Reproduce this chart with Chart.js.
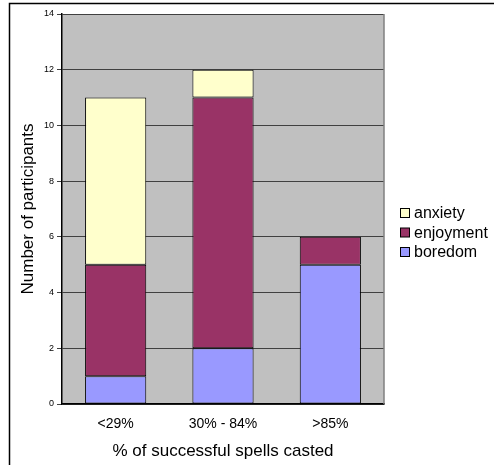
<!DOCTYPE html>
<html>
<head>
<meta charset="utf-8">
<script src="https://cdn.jsdelivr.net/npm/chart.js@4"></script>
<style>
  html, body { margin: 0; padding: 0; background: #fff; }
  #wrap { width: 494px; height: 465px; }
</style>
</head>
<body>
<div id="wrap"><canvas id="spellsChart" width="494" height="465"></canvas></div>
<script>
// data
const categories = ['<29%', '30% - 84%', '>85%'];
const boredom = [1, 2, 5];
const enjoyment = [4, 9, 1];
const anxiety = [6, 1, 0];
const yTicks = [0, 2, 4, 6, 8, 10, 12, 14];

const FONT = '"Liberation Sans", Arial, sans-serif';

// grey plot area + outer frame + right border of plot
const frame = {
    id: 'frame',
    beforeDraw(chart) {
        const c = chart.ctx, a = chart.chartArea;
        c.save();
        c.fillStyle = '#fff';
        c.fillRect(0, 0, chart.width, chart.height);
        c.strokeStyle = '#000';
        c.lineWidth = 1.5;
        c.beginPath();
        c.moveTo(9.5, chart.height + 2);
        c.lineTo(9.5, 3.5);
        c.lineTo(chart.width + 2, 3.5);
        c.stroke();
        c.fillStyle = '#c0c0c0';
        c.fillRect(a.left, a.top, a.right - a.left, a.bottom - a.top);
        c.restore();
    },
    afterDraw(chart) {
        const c = chart.ctx, a = chart.chartArea;
        c.save();
        c.strokeStyle = '#808080';
        c.lineWidth = 1.5;
        c.beginPath();
        c.moveTo(a.right, a.top);
        c.lineTo(a.right, a.bottom);
        c.stroke();

        // legend, top series first like the original
        const items = chart.data.datasets.slice().reverse();
        let y = 213;
        c.font = '16px ' + FONT;
        c.textBaseline = 'middle';
        items.forEach(ds => {
            c.fillStyle = ds.backgroundColor;
            c.fillRect(400.5, y - 4.5, 9, 9);
            c.strokeStyle = '#000';
            c.lineWidth = 1;
            c.strokeRect(400.5, y - 4.5, 9, 9);
            c.fillStyle = '#000';
            c.fillText(ds.label, 414, y + 1);
            y += 19.5;
        });
        c.restore();
    }
};

new Chart(document.getElementById('spellsChart'), {
    type: 'bar',
    data: {
        labels: categories,
        datasets: [
            { label: 'boredom', data: boredom, backgroundColor: '#9999ff' },
            { label: 'enjoyment', data: enjoyment, backgroundColor: '#993366' },
            { label: 'anxiety', data: anxiety, backgroundColor: '#ffffcc' }
        ].map(d => Object.assign(d, {
            borderColor: '#000', borderWidth: 1, borderSkipped: false,
            barPercentage: 0.57, categoryPercentage: 1
        }))
    },
    options: {
        responsive: false,
        devicePixelRatio: 1,
        animation: false,
        layout: { padding: { left: 10, top: 14, right: 110, bottom: 0 } },
        plugins: { legend: { display: false }, tooltip: { enabled: false } },
        scales: {
            x: {
                stacked: true,
                grid: { display: false, drawTicks: false },
                border: { display: true, color: '#000', width: 1.5 },
                ticks: { color: '#000', font: { family: FONT, size: 14 }, padding: 12 },
                title: { display: true, text: '% of successful spells casted', color: '#000',
                         font: { family: FONT, size: 17 }, padding: { top: 0, bottom: 3 } },
                afterFit: s => { s.height = 61; }
            },
            y: {
                stacked: true,
                min: 0, max: 14,
                afterBuildTicks: s => { s.ticks = yTicks.map(v => ({ value: v })); },
                grid: { color: '#404040', lineWidth: 1, tickLength: 5, drawTicks: true },
                border: { display: true, color: '#000', width: 1.5 },
                ticks: { color: '#000', font: { family: FONT, size: 9 }, padding: 3 },
                title: { display: true, text: 'Number of participants', color: '#000',
                         font: { family: FONT, size: 17 }, padding: { top: 8, bottom: 0 } },
                afterFit: s => { s.width = 52; }
            }
        }
    },
    plugins: [frame]
});
</script>
</body>
</html>
